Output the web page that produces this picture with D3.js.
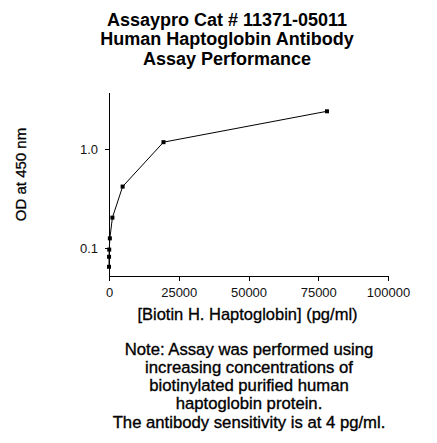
<!DOCTYPE html>
<html>
<head>
<meta charset="utf-8">
<script src="https://cdn.jsdelivr.net/npm/d3@7"></script>
<style>
  body { margin: 0; background: #fff; }
  svg { display: block; font-family: "Liberation Sans", Arial, sans-serif; }
</style>
</head>
<body>
<svg id="chart"></svg>
<script>
// --- Data ---
const concentrations = [78125, 19531, 4883, 1221, 305, 76, 19, 4.8];
const odValues = [2.42, 1.18, 0.42, 0.204, 0.126, 0.097, 0.082, 0.065];
const xTicks = [0, 25000, 50000, 75000, 100000];
const yTicks = [0.1, 1];
const titleLines = ["Assaypro Cat # 11371-05011", "Human Haptoglobin Antibody", "Assay Performance"];
const noteLines = [
  "Note: Assay was performed using",
  "increasing concentrations of",
  "biotinylated purified human",
  "haptoglobin protein.",
  "The antibody sensitivity is at 4 pg/ml."
];

const width = 437, height = 443;
const svg = d3.select("#chart").attr("width", width).attr("height", height);

// --- Scales ---
const x = d3.scaleLinear().domain([0, 100000]).range([109, 388]);
const y = d3.scaleLog().domain([0.0531, 3.79]).range([275.5, 92]);

// --- Title ---
svg.append("g").selectAll("text")
  .data(titleLines)
  .enter().append("text")
  .attr("x", 227)
  .attr("y", (d, i) => 25.5 + i * 19.5)
  .attr("text-anchor", "middle")
  .attr("font-size", 18)
  .attr("font-weight", "bold")
  .text(d => d);

// --- Axes ---
const xAxis = svg.append("g")
  .attr("transform", `translate(0,${y.range()[0]})`)
  .call(d3.axisBottom(x).tickValues(xTicks).tickSize(5).tickSizeOuter(0).tickPadding(7).tickFormat(d3.format("d")));

const yAxis = svg.append("g")
  .attr("transform", `translate(${x(0)},0)`)
  .call(d3.axisLeft(y).tickValues(yTicks).tickSize(4).tickSizeOuter(0).tickPadding(7).tickFormat(d3.format(".1f")));

[xAxis, yAxis].forEach(g => {
  g.selectAll("path, line").attr("stroke", "#000").attr("shape-rendering", "crispEdges");
  g.selectAll("text").attr("font-size", 13).attr("fill", "#111")
    .attr("font-family", "'Liberation Sans', Arial, sans-serif");
});

// --- Line + markers ---
const pts = concentrations.map((c, i) => ({ c, v: odValues[i] }));

svg.append("path")
  .datum(pts)
  .attr("fill", "none")
  .attr("stroke", "#000")
  .attr("stroke-width", 1)
  .attr("d", d3.line().x(d => x(d.c)).y(d => y(d.v)));

svg.append("g").selectAll("rect")
  .data(pts)
  .enter().append("rect")
  .attr("x", d => x(d.c) - 2)
  .attr("y", d => y(d.v) - 2)
  .attr("width", 4)
  .attr("height", 4)
  .attr("fill", "#000");

// --- Axis titles (slightly heavier than plain regular, like the original) ---
svg.append("text")
  .attr("transform", "translate(26,174.5) rotate(-90)")
  .attr("text-anchor", "middle")
  .attr("font-size", 15)
  .attr("stroke", "#000").attr("stroke-width", 0.3)
  .text("OD at 450 nm");

svg.append("text")
  .attr("x", 247.5)
  .attr("y", 320)
  .attr("text-anchor", "middle")
  .attr("font-size", 16.5)
  .attr("stroke", "#000").attr("stroke-width", 0.3)
  .text("[Biotin H. Haptoglobin] (pg/ml)");

// --- Note ---
svg.append("g").selectAll("text")
  .data(noteLines)
  .enter().append("text")
  .attr("x", 249)
  .attr("y", (d, i) => 354.5 + i * 18.3)
  .attr("text-anchor", "middle")
  .attr("font-size", 16.7)
  .attr("stroke", "#000").attr("stroke-width", 0.35)
  .text(d => d);
</script>
</body>
</html>
